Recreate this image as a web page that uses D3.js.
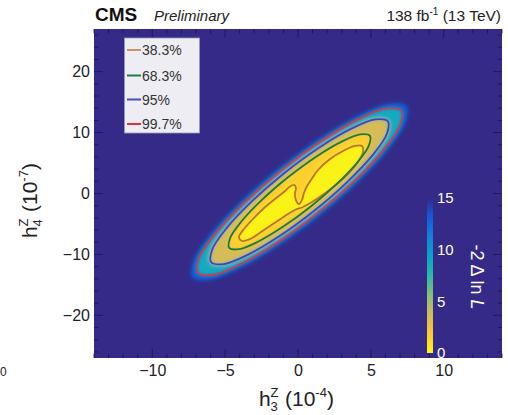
<!DOCTYPE html>
<html><head><meta charset="utf-8">
<script src="https://cdn.jsdelivr.net/npm/d3@7"></script>
<style>
body{margin:0;background:#fff;}
svg{display:block;font-family:"Liberation Sans",Arial,Helvetica,sans-serif;}
</style>
</head><body>
<svg id="chart" width="508" height="415"></svg>
<script>
// ---------------- data ----------------
const xTicks = [-10, -5, 0, 5, 10];
const yTicks = [-20, -10, 0, 10, 20];
const zTicks = [0, 5, 10, 15];
const levelNames = ["38.3%", "68.3%", "95%", "99.7%"];
const levelColors = ["#b4772f", "#1f7a3c", "#3f46c2", "#d23a4c"];
const legendColors = ["#c8965c", "#1f7a4a", "#4a4ec4", "#e0303f"];
// -2 Delta ln L contours (h3Z in 1e-4, h4Z in 1e-7)
const contour383 = [[-4.05,-7.14],[-3.71,-5.83],[-3.16,-4.35],[-2.40,-2.54],[-1.58,-0.90],[-0.89,0.41],[-0.55,1.15],[-0.27,1.40],[-0.14,0.90],[-0.21,-0.08],[-0.14,-1.07],[0.07,-1.72],[0.27,-1.07],[0.41,0.08],[0.62,1.23],[0.89,2.22],[1.37,3.86],[2.20,5.66],[3.09,6.98],[3.91,7.80],[4.39,7.80],[4.46,6.81],[4.12,5.17],[3.50,3.36],[2.68,1.56],[1.78,-0.08],[0.96,-1.40],[0.34,-2.22],[-0.21,-2.71],[-0.89,-3.69],[-1.72,-5.01],[-2.54,-6.32],[-3.29,-7.47],[-3.84,-7.80]];
const contour683 = [[4.93,9.50],[4.87,7.89],[4.08,5.13],[2.68,1.62],[0.90,-2.09],[-1.01,-5.43],[-2.75,-7.91],[-4.05,-9.14],[-4.72,-8.93],[-4.66,-7.32],[-3.87,-4.55],[-2.48,-1.05],[-0.69,2.66],[1.22,6.01],[2.96,8.48],[4.26,9.71]];
const contour95 = [[6.16,11.86],[6.10,9.80],[5.12,6.29],[3.37,1.87],[1.13,-2.79],[-1.27,-6.99],[-3.46,-10.07],[-5.10,-11.58],[-5.96,-11.28],[-5.89,-9.22],[-4.91,-5.72],[-3.17,-1.30],[-0.93,3.37],[1.47,7.56],[3.66,10.64],[5.31,12.15]];
const contour997 = [[7.08,13.60],[7.00,11.21],[5.88,7.16],[3.88,2.06],[1.30,-3.30],[-1.46,-8.13],[-3.98,-11.66],[-5.88,-13.38],[-6.87,-13.02],[-6.80,-10.64],[-5.68,-6.59],[-3.67,-1.49],[-1.10,3.88],[1.66,8.70],[4.19,12.24],[6.09,13.96]];
const contourEdge = [[7.45,14.32],[7.40,11.73],[6.24,7.40],[4.14,1.98],[1.43,-3.69],[-1.48,-8.76],[-4.15,-12.45],[-6.18,-14.20],[-7.24,-13.74],[-7.19,-11.15],[-6.03,-6.82],[-3.94,-1.41],[-1.22,4.26],[1.69,9.33],[4.36,13.02],[6.38,14.77]];
// band fill values (-2 Delta ln L) between contours
const bandValues = [12.8, 8.8, 3.6, 1.6, 0.3];

// ---------------- colour map (ROOT kBird, reversed) ----------------
const birdStops = [0, .125, .25, .375, .5, .625, .75, .875, 1];
const birdR = [0.2082,0.0592,0.0780,0.0232,0.1802,0.5301,0.8186,0.9956,0.9764];
const birdG = [0.1664,0.3599,0.5041,0.6419,0.7178,0.7492,0.7328,0.7862,0.9832];
const birdB = [0.5293,0.8684,0.8385,0.7914,0.6425,0.4662,0.3499,0.1968,0.0539];
const birdCols = birdStops.map((s,i)=>d3.rgb(birdR[i]*255, birdG[i]*255, birdB[i]*255).formatHex());
const zMax = 15;
const color = d3.scaleLinear().domain(birdStops.map(s => zMax*(1-s))).range(birdCols).clamp(true);

// ---------------- layout ----------------
const svg = d3.select("#chart");
const L = 94, R = 502, T = 29, B = 358;
const x = d3.scaleLinear().domain([-14, 14]).range([L, R]);
const y = d3.scaleLinear().domain([-27, 27]).range([B, T]);

const defs = svg.append("defs");
defs.append("clipPath").attr("id","plotClip").append("rect")
  .attr("x",L).attr("y",T).attr("width",R-L).attr("height",B-T);
const blur = defs.append("filter").attr("id","soft")
  .attr("x","-20%").attr("y","-20%").attr("width","140%").attr("height","140%");
blur.append("feGaussianBlur").attr("stdDeviation", 2.3);

// plot background (values above range)
svg.append("rect").attr("x",L).attr("y",T).attr("width",R-L).attr("height",B-T)
  .attr("fill", color(zMax));

const line = d3.line().x(d=>x(d[0])).y(d=>y(d[1])).curve(d3.curveCatmullRomClosed.alpha(0.5));

const fillPolys = [contourEdge, contour997, contour95, contour683, contour383];
const plot = svg.append("g").attr("clip-path","url(#plotClip)");
const fills = plot.append("g").attr("filter","url(#soft)");
fillPolys.forEach((p,i)=>{
  fills.append("path").attr("d", line(p)).attr("fill", color(bandValues[i]));
});
const linePolys = [contour383, contour683, contour95, contour997];
linePolys.forEach((p,i)=>{
  plot.append("path").attr("d", line(p)).attr("fill","none")
    .attr("stroke", levelColors[i]).attr("stroke-width", 1.8);
});

// inward frame ticks
const tickG = svg.append("g").attr("stroke","#1c1550").attr("stroke-width",1).attr("opacity",0.8);
d3.range(-14, 15, 1).forEach(v=>{
  const len = v % 5 === 0 ? 9 : 4.5;
  tickG.append("line").attr("x1",x(v)).attr("x2",x(v)).attr("y1",B).attr("y2",B-len);
  tickG.append("line").attr("x1",x(v)).attr("x2",x(v)).attr("y1",T).attr("y2",T+len);
});
d3.range(-26, 27, 2).forEach(v=>{
  const len = v % 10 === 0 ? 9 : 4.5;
  tickG.append("line").attr("y1",y(v)).attr("y2",y(v)).attr("x1",L).attr("x2",L+len);
  tickG.append("line").attr("y1",y(v)).attr("y2",y(v)).attr("x1",R).attr("x2",R-len);
});

// axes labels
const xAxis = svg.append("g").attr("transform",`translate(0,${B})`)
  .call(d3.axisBottom(x).tickValues(xTicks).tickSize(0).tickPadding(7));
const yAxis = svg.append("g").attr("transform",`translate(${L},0)`)
  .call(d3.axisLeft(y).tickValues(yTicks).tickSize(0).tickPadding(4));
[xAxis,yAxis].forEach(a=>{
  a.select(".domain").remove();
  a.selectAll("text").attr("font-size",16).attr("fill","#222")
    .attr("font-family","'Liberation Sans',Arial,sans-serif");
});

// x title: h_3^Z (10^-4)
const xt = svg.append("g").attr("transform","translate(259,406)").attr("fill","#222")
  .attr("font-size",21);
xt.append("text").attr("x",0).attr("y",0).text("h");
xt.append("text").attr("x",11.5).attr("y",-9).attr("font-size",13).text("Z");
xt.append("text").attr("x",11.5).attr("y",5).attr("font-size",13).text("3");
const xt2 = xt.append("text").attr("x",26).attr("y",0);
xt2.append("tspan").text("(10");
xt2.append("tspan").attr("dy",-9).attr("font-size",13).text("-4");
xt2.append("tspan").attr("dy",9).text(")");

// y title: h_4^Z (10^-7)
const yt = svg.append("g").attr("transform","translate(37,238) rotate(-90)").attr("fill","#222")
  .attr("font-size",21);
yt.append("text").attr("x",0).attr("y",0).text("h");
yt.append("text").attr("x",11.5).attr("y",-9).attr("font-size",13).text("Z");
yt.append("text").attr("x",11.5).attr("y",5).attr("font-size",13).text("4");
const yt2 = yt.append("text").attr("x",26).attr("y",0);
yt2.append("tspan").text("(10");
yt2.append("tspan").attr("dy",-9).attr("font-size",13).text("-7");
yt2.append("tspan").attr("dy",9).text(")");

// colour bar
const cz = d3.scaleLinear().domain([0, zMax]).range([353, 198]);
const grad = defs.append("linearGradient").attr("id","zgrad")
  .attr("x1",0).attr("y1",1).attr("x2",0).attr("y2",0);
d3.range(0, 31).forEach(i=>{
  const v = i/30*zMax;
  grad.append("stop").attr("offset", (v/zMax*100)+"%").attr("stop-color", color(v));
});
svg.append("rect").attr("x",427).attr("y",cz(zMax)).attr("width",6)
  .attr("height",cz(0)-cz(zMax)).attr("fill","url(#zgrad)");
const zAxis = svg.append("g").attr("transform","translate(433,0)")
  .call(d3.axisRight(cz).tickValues(zTicks).tickSize(0).tickPadding(4));
zAxis.select(".domain").remove();
zAxis.selectAll("text").attr("font-size",15).attr("fill","#fff")
  .attr("font-family","'Liberation Sans',Arial,sans-serif");
const zt = svg.append("text").attr("transform","translate(471,277) rotate(90)")
  .attr("text-anchor","middle").attr("fill","#fff").attr("font-size",18);
zt.append("tspan").text("-2 \u0394 ln ");
zt.append("tspan").attr("font-style","italic").text("L");

// legend
const lg = svg.append("g");
lg.append("rect").attr("x",124.5).attr("y",38).attr("width",75).attr("height",95)
  .attr("fill","#eeedf4").attr("stroke","#9a98b8").attr("stroke-width",0.8);
const rowY = [50, 75.5, 99.5, 124];
levelNames.forEach((n,i)=>{
  lg.append("line").attr("x1",127).attr("x2",141).attr("y1",rowY[i]).attr("y2",rowY[i])
    .attr("stroke",legendColors[i]).attr("stroke-width",2);
  lg.append("text").attr("x",142).attr("y",rowY[i]+5).attr("font-size",14)
    .attr("fill","#333").text(n);
});

// header
svg.append("text").attr("x",95).attr("y",21).attr("font-size",19).attr("font-weight","bold")
  .attr("fill","#111").text("CMS");
svg.append("text").attr("x",154).attr("y",21).attr("font-size",15).attr("font-style","italic")
  .attr("fill","#222").text("Preliminary");
const lumi = svg.append("text").attr("x",501).attr("y",21).attr("font-size",15.5)
  .attr("text-anchor","end").attr("fill","#222");
lumi.append("tspan").text("138 fb");
lumi.append("tspan").attr("dy",-6).attr("font-size",10).text("-1");
lumi.append("tspan").attr("dy",6).text(" (13 TeV)");

// label at the left edge of the picture
svg.append("text").attr("x",0).attr("y",376).attr("font-size",12).attr("fill","#222").text("0");
</script>
</body></html>
